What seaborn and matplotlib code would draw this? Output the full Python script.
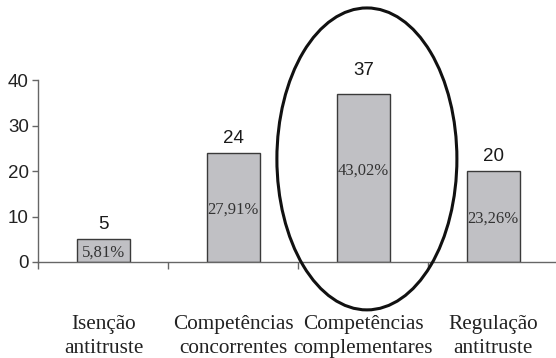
import matplotlib
matplotlib.use("Agg")
import matplotlib.pyplot as plt
from matplotlib.patches import Ellipse
import seaborn as sns
import pandas as pd

# Categories, counts and shares
categories = [
    "Isenção\nantitruste",
    "Competências\nconcorrentes",
    "Competências\ncomplementares",
    "Regulação\nantitruste",
]
counts = [5, 24, 37, 20]
shares = ["5,81%", "27,91%", "43,02%", "23,26%"]
y_ticks = [0, 10, 20, 30, 40]
highlight = 2  # index of the circled category

df = pd.DataFrame({"categoria": categories, "n": counts})

sns.set_theme(style="white")
plt.rcParams["font.family"] = ["Liberation Sans", "DejaVu Sans"]

fig = plt.figure(figsize=(5.56, 3.58), dpi=100)
ax = fig.add_axes([0.0692, 0.2682, 0.935, 0.5073])

sns.barplot(data=df, x="categoria", y="n", order=categories, ax=ax,
            color="#c0c0c4", width=0.41, edgecolor="#3a3a3a", linewidth=1.0,
            saturation=1)

ax.set_xlim(-0.5, 3.5)
ax.set_ylim(0, 40)
ax.set_xlabel("")
ax.set_ylabel("")

# spines
for s in ["top", "right"]:
    ax.spines[s].set_visible(False)
for s in ["left", "bottom"]:
    ax.spines[s].set_color("#666666")
    ax.spines[s].set_linewidth(1.0)

# y axis
ax.set_yticks(y_ticks)
ax.set_yticklabels([str(v) for v in y_ticks], fontsize=13.5, color="#222222")
ax.tick_params(axis="y", direction="out", length=4, width=1, color="#666666",
               pad=3, left=True)

# x axis: labels at category centres, marks on boundaries
ax.set_xticks(range(len(categories)))
ax.set_xticklabels(categories, fontsize=15.3, color="#222222",
                   family=["Liberation Serif", "DejaVu Serif"], linespacing=1.3)
ax.tick_params(axis="x", which="major", length=0, pad=38.5)
ax.set_xticks([i - 0.5 for i in range(len(categories) + 1)], minor=True)
ax.tick_params(axis="x", which="minor", direction="out", length=5, width=1,
               color="#666666", bottom=True)

# value labels above bars, share labels inside bars
for i, (v, s) in enumerate(zip(counts, shares)):
    extra = 2.0 if i == highlight else 0.0
    ax.text(i, v + 1.3 + extra, str(v), ha="center", va="bottom",
            fontsize=13.5, color="#1a1a1a")
    mid = v / 2 + (2.0 if i == highlight else 0.0)
    ax.text(i, mid, s, ha="center", va="center_baseline", fontsize=12,
            color="#333333", family=["Liberation Serif", "DejaVu Serif"])

# ellipse around the highlighted category
ell = Ellipse((2.027, 22.7), width=1.385, height=66.5, fill=False,
              edgecolor="#111111", linewidth=2.2, clip_on=False, zorder=5)
ax.add_patch(ell)

fig.savefig("out.png", dpi=100)
